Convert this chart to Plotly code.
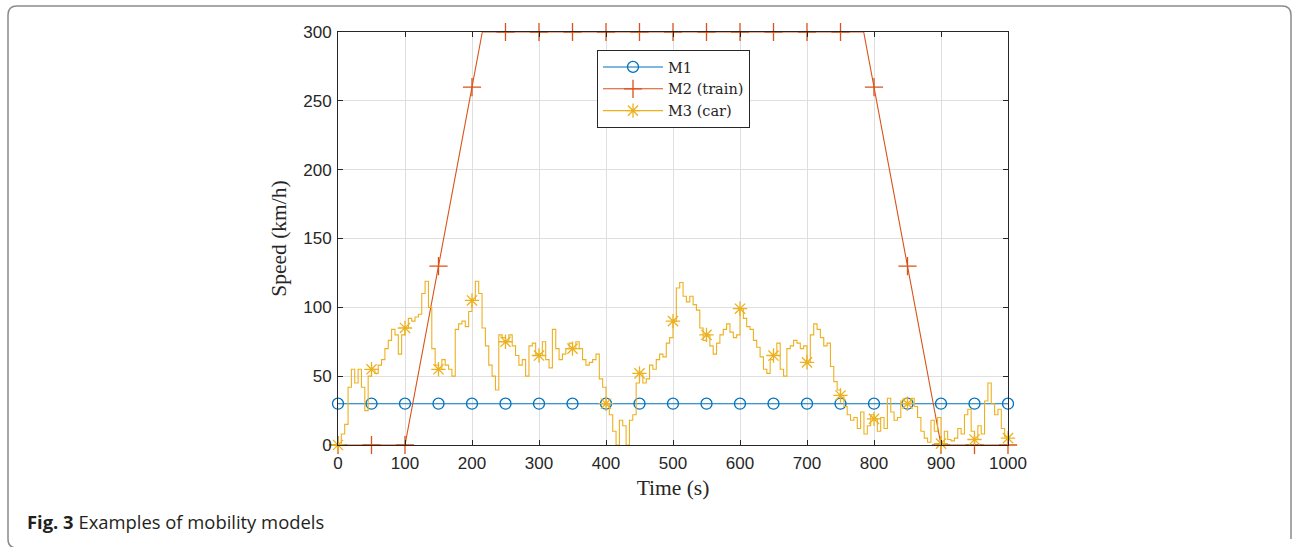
import plotly.graph_objects as go

# ---------------- data ----------------
marker_times = list(range(0, 1001, 50))

# M1: constant speed
m1_speed = [30] * len(marker_times)

# M2 (train): vertices of the speed profile and values at marker times
m2_line_times = [0, 100, 215.4, 784.6, 900, 1000]
m2_line_speed = [0, 0, 300, 300, 0, 0]
m2_marker_speed = [0, 0, 0, 130, 260, 300, 300, 300, 300, 300, 300,
                   300, 300, 300, 300, 300, 260, 130, 0, 0, 0]

# M3 (car): speed sampled every 5 s
m3_times = list(range(0, 1001, 5))
m3_speed = [
    0, 8, 15, 42, 55, 45, 55, 42, 25, 50,
    55, 52, 58, 62, 70, 76, 84, 80, 66, 80,
    85, 92, 90, 93, 95, 110, 119, 100, 70, 58,
    55, 62, 58, 55, 50, 84, 88, 90, 86, 97,
    105, 119, 110, 85, 72, 58, 50, 40, 80, 78,
    75, 80, 72, 65, 58, 62, 50, 72, 74, 66,
    65, 75, 62, 56, 84, 70, 62, 66, 70, 74,
    70, 75, 70, 62, 58, 60, 62, 66, 48, 42,
    30, 22, 10, 0, 18, 14, 0, 18, 22, 45,
    52, 45, 48, 58, 55, 62, 66, 64, 74, 78,
    90, 114, 118, 108, 104, 108, 102, 98, 85, 76,
    80, 72, 66, 74, 80, 84, 88, 82, 78, 80,
    99, 92, 86, 84, 76, 71, 64, 55, 52, 62,
    65, 74, 55, 50, 70, 72, 76, 74, 70, 72,
    60, 80, 88, 84, 78, 72, 74, 57, 46, 40,
    36, 28, 22, 18, 20, 12, 24, 8, 14, 22,
    19, 10, 20, 12, 34, 24, 18, 20, 32, 34,
    30, 34, 28, 20, 10, 5, 2, 18, 10, 20,
    1, 10, 4, 3, 5, 12, 8, 22, 26, 10,
    4, 14, 8, 32, 45, 30, 22, 26, 12, 6,
    5,
]
m3_marker_speed = [v for t, v in zip(m3_times, m3_speed) if t % 50 == 0]

series_names = ["M1", "M2 (train)", "M3 (car)"]
colors = ["#0072BD", "#D95319", "#EDB120"]
symbols = ["circle-open", "cross-thin-open", "asterisk-open"]
sizes = [11, 13, 12]

x_ticks = list(range(0, 1001, 100))
y_ticks = list(range(0, 301, 50))

# ---------------- figure ----------------
W, H = 1292, 547
L, R, T, B = 338, 1008, 32, 445  # plot area in pixels
LW = 1.1

fig = go.Figure()

line_data = [
    (marker_times, m1_speed, "linear"),
    (m2_line_times, m2_line_speed, "linear"),
    (m3_times, m3_speed, "hv"),
]
marker_data = [m1_speed, m2_marker_speed, m3_marker_speed]

for i, name in enumerate(series_names):
    xs, ys, shape = line_data[i]
    fig.add_trace(go.Scatter(
        x=xs, y=ys, mode="lines", showlegend=False, legendgroup=name,
        line=dict(color=colors[i], width=LW, shape=shape), hoverinfo="skip",
        cliponaxis=False,
    ))
    fig.add_trace(go.Scatter(
        x=marker_times, y=marker_data[i], mode="markers", showlegend=False, legendgroup=name,
        marker=dict(symbol=symbols[i], size=sizes[i], color=colors[i],
                    line=dict(width=1.3, color=colors[i])),
        cliponaxis=False,
    ))
    # legend entry (line + marker)
    fig.add_trace(go.Scatter(
        x=[None], y=[None], mode="lines+markers", name=name, legendgroup=name,
        line=dict(color=colors[i], width=LW),
        marker=dict(symbol=symbols[i], size=sizes[i], color=colors[i],
                    line=dict(width=1.3, color=colors[i])),
    ))

axis_common = dict(
    showline=True, linecolor="#262626", linewidth=1, mirror="ticks",
    ticks="inside", ticklen=5, tickcolor="#262626", tickwidth=1,
    showgrid=True, gridcolor="#dfdfdf", gridwidth=1, zeroline=False,
    tickfont=dict(family="Liberation Sans, Arial, sans-serif", size=17, color="#262626"),
)

title_font = dict(family="Liberation Serif, serif", size=21.5, color="#262626")

fig.update_xaxes(
    range=[0, 1000], tickvals=x_ticks, ticktext=[str(v) for v in x_ticks],
    ticklabelstandoff=3,
    title=dict(text="Time (s)", font=title_font, standoff=7),
    **axis_common,
)
fig.update_yaxes(
    range=[0, 300], tickvals=y_ticks, ticktext=[str(v) for v in y_ticks],
    ticklabelstandoff=2,
    title=dict(text="Speed (km/h)", font=title_font, standoff=10),
    **axis_common,
)

def px_x(p):
    return (p - L) / (R - L)

def px_y(p):
    return (B - p) / (B - T)

# rounded outer frame
x0, x1 = px_x(8), px_x(1291)
y_top = px_y(6)
y_bot = px_y(548)
rx = 9 / (R - L)
ry = 9 / (B - T)
path = (f"M{x1},{y_bot + ry} L{x1},{y_top - ry} Q{x1},{y_top} {x1 - rx},{y_top} "
        f"L{x0 + rx},{y_top} Q{x0},{y_top} {x0},{y_top - ry} "
        f"L{x0},{y_bot + ry} Q{x0},{y_bot} {x0 + rx},{y_bot}")
fig.add_shape(type="path", path=path, xref="paper", yref="paper",
              line=dict(color="#8a8a8a", width=1.5), layer="below")

fig.add_annotation(
    x=px_x(25), y=px_y(521), xref="paper", yref="paper", xanchor="left", yanchor="middle",
    text="<b>Fig. 3</b> Examples of mobility models", showarrow=False,
    font=dict(family="Open Sans, Noto Sans, sans-serif", size=18.4, color="#231f20"),
)

fig.update_layout(
    width=W, height=H,
    margin=dict(l=L, r=W - R, t=T, b=H - B, autoexpand=False),
    paper_bgcolor="white", plot_bgcolor="white",
    showlegend=True,
    legend=dict(
        x=px_x(597), y=px_y(50), xanchor="left", yanchor="top",
        bgcolor="white", bordercolor="#262626", borderwidth=1,
        font=dict(family="DejaVu Serif, serif", size=14.5, color="#262626"),
        itemwidth=60, tracegroupgap=0,
    ),
)

fig.write_html(
    "out.html",
    config={"displayModeBar": False},
    post_script="document.body.style.margin='0';document.body.style.padding='0';",
)
